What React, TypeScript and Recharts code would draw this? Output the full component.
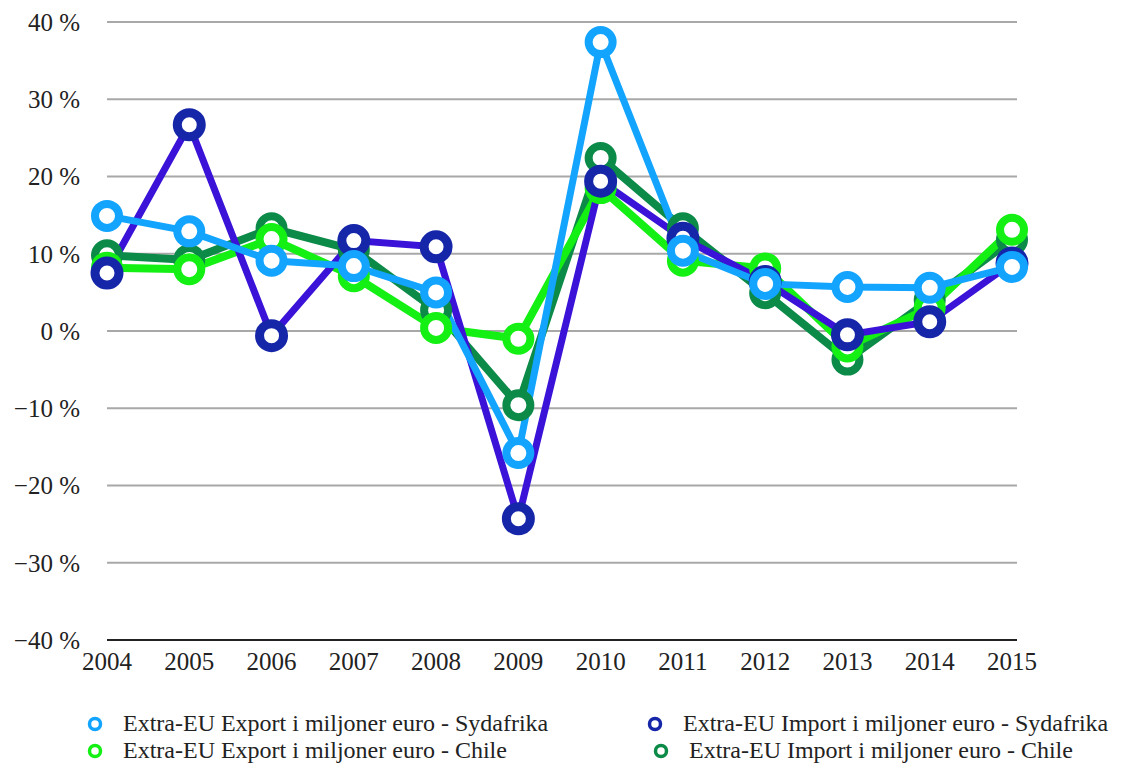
import React from 'react';
import { LineChart, Line, XAxis, YAxis, CartesianGrid, Legend } from 'recharts';

const years = ['2004', '2005', '2006', '2007', '2008', '2009', '2010', '2011', '2012', '2013', '2014', '2015'];
const exportSydafrika = [14.9, 12.9, 9.1, 8.4, 5.0, -15.8, 37.4, 10.4, 6.1, 5.7, 5.6, 8.3];
const importSydafrika = [7.5, 26.7, -0.6, 11.7, 10.9, -24.3, 19.4, 12.0, 6.4, -0.5, 1.2, 8.8];
const exportChile = [8.2, 8.0, 11.9, 7.1, 0.4, -1.0, 18.5, 9.1, 8.1, -2.0, 3.0, 13.1];
const importChile = [9.8, 9.2, 13.3, 10.5, 2.7, -9.6, 22.4, 13.3, 4.9, -3.7, 4.0, 11.8];
const yTicks = [-40, -30, -20, -10, 0, 10, 20, 30, 40];

const data = years.map((year, i) => ({
  year,
  exportSA: exportSydafrika[i],
  importSA: importSydafrika[i],
  exportCL: exportChile[i],
  importCL: importChile[i],
}));

const FONT = '"Liberation Serif", "Times New Roman", serif';

const legendItems = [
  { name: 'Extra-EU Export i miljoner euro - Sydafrika', color: '#12a4ff', left: 87, top: 0 },
  { name: 'Extra-EU Import i miljoner euro - Sydafrika', color: '#1626a8', left: 647, top: 0 },
  { name: 'Extra-EU Export i miljoner euro - Chile', color: '#14f014', left: 87, top: 27 },
  { name: 'Extra-EU Import i miljoner euro - Chile', color: '#0b8a48', left: 653, top: 27 },
];

const renderLegend = () => (
  <div style={{ position: 'relative', width: 1137, height: 54, fontFamily: FONT, fontSize: 24, color: '#222' }}>
    {legendItems.map((item) => (
      <div
        key={item.name}
        style={{ position: 'absolute', left: item.left, top: item.top, height: 27, display: 'flex', alignItems: 'center', whiteSpace: 'nowrap' }}
      >
        <svg width={16} height={16} style={{ marginRight: 20 }}>
          <circle cx={8} cy={8} r={5.5} fill="#fff" stroke={item.color} strokeWidth={3.5} />
        </svg>
        <span style={{ lineHeight: '27px' }}>{item.name}</span>
      </div>
    ))}
  </div>
);

const formatPercent = (v: number) => (v < 0 ? `\u2212${Math.abs(v)} %` : `${v} %`);

const dot = (color: string, strokeWidth = 8) => ({ r: 12, fill: '#fff', stroke: color, strokeWidth });

const App: React.FC = () => {
  return (
    <div style={{ position: 'absolute', left: 0, top: 0 }}>
      <LineChart width={1137} height={765} data={data} margin={{ top: 22, right: 120, left: 0, bottom: 85 }}>
        <CartesianGrid vertical={false} stroke="#a8a8a8" strokeWidth={2} />
        <XAxis
          dataKey="year"
          padding={{ left: 0, right: 5 }}
          axisLine={{ stroke: '#222', strokeWidth: 2 }}
          tickLine={false}
          tickSize={0}
          tickMargin={12}
          tick={{ fill: '#222', fontSize: 25, fontFamily: FONT }}
          interval={0}
          height={40}
        />
        <YAxis
          domain={[-40, 40]}
          ticks={yTicks}
          width={107}
          axisLine={false}
          tickLine={false}
          tickSize={0}
          tickMargin={27}
          tickFormatter={formatPercent}
          tick={{ fill: '#222', fontSize: 25, fontFamily: FONT }}
          interval={0}
        />
        <Legend
          layout="vertical"
          align="center"
          verticalAlign="middle"
          content={renderLegend}
          wrapperStyle={{ top: 710, left: 0, width: 1137 }}
        />
        <Line
          type="linear"
          dataKey="importCL"
          name="Extra-EU Import i miljoner euro - Chile"
          stroke="#0b8a48"
          strokeWidth={8}
          dot={dot('#0b8a48')}
          activeDot={false}
          isAnimationActive={false}
        />
        <Line
          type="linear"
          dataKey="exportCL"
          name="Extra-EU Export i miljoner euro - Chile"
          stroke="#14f014"
          strokeWidth={8}
          dot={dot('#14f014')}
          activeDot={false}
          isAnimationActive={false}
        />
        <Line
          type="linear"
          dataKey="importSA"
          name="Extra-EU Import i miljoner euro - Sydafrika"
          stroke="#3a12d8"
          strokeWidth={7}
          dot={dot('#1626a8', 9)}
          activeDot={false}
          isAnimationActive={false}
        />
        <Line
          type="linear"
          dataKey="exportSA"
          name="Extra-EU Export i miljoner euro - Sydafrika"
          stroke="#12a4ff"
          strokeWidth={7}
          dot={dot('#12a4ff')}
          activeDot={false}
          isAnimationActive={false}
        />
      </LineChart>
    </div>
  );
};

export default App;
